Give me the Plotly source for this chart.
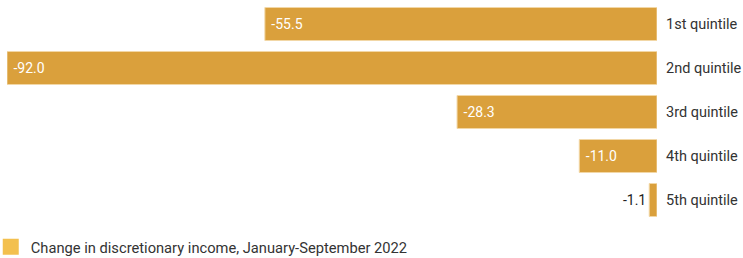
import plotly.graph_objects as go

categories = ["1st quintile", "2nd quintile", "3rd quintile", "4th quintile", "5th quintile"]
values = [-55.5, -92.0, -28.3, -11.0, -1.1]
value_labels = ["-55.5", "-92.0", "-28.3", "-11.0", "-1.1"]
series_name = "Change in discretionary income, January-September 2022"

BAR = "#DAA03C"
SWATCH = "#F3C04E"
FONT = "Roboto, Arial, sans-serif"

fig = go.Figure()
fig.add_trace(go.Bar(
    x=values, y=categories, orientation="h",
    text=value_labels, texttemplate="\u00a0%{text}",
    textposition="auto", insidetextanchor="end",
    insidetextfont=dict(color="white", size=14, family=FONT),
    outsidetextfont=dict(color="#222222", size=14, family=FONT),
    marker=dict(color=BAR, line=dict(color="#F2D7A6", width=1)),
    showlegend=False, cliponaxis=False, hoverinfo="skip",
))
fig.add_trace(go.Scatter(
    x=[None], y=[None], mode="markers", name=series_name,
    marker=dict(color=SWATCH, symbol="square", size=16), showlegend=True,
))

fig.update_layout(
    width=743, height=258,
    margin=dict(l=7, r=86, t=2, b=36, autoexpand=False),
    paper_bgcolor="white", plot_bgcolor="white",
    bargap=0.25,
    font=dict(family=FONT, color="#333333", size=13),
    xaxis=dict(range=[-92, 0], visible=False, fixedrange=True),
    yaxis=dict(side="right", autorange="reversed", showgrid=False, zeroline=False,
               showline=False, ticks="", ticklabelstandoff=8, automargin=False,
               fixedrange=True,
               tickfont=dict(size=14.5, color="#333333", family=FONT)),
    legend=dict(orientation="h", x=-0.025, y=-0.04, xanchor="left", yanchor="top",
                font=dict(size=14.7, color="#333333", family=FONT), itemwidth=30),
)

fig.write_html("out.html", config={"displayModeBar": False},
               post_script="document.body.style.margin='0';document.body.style.overflow='hidden';")
